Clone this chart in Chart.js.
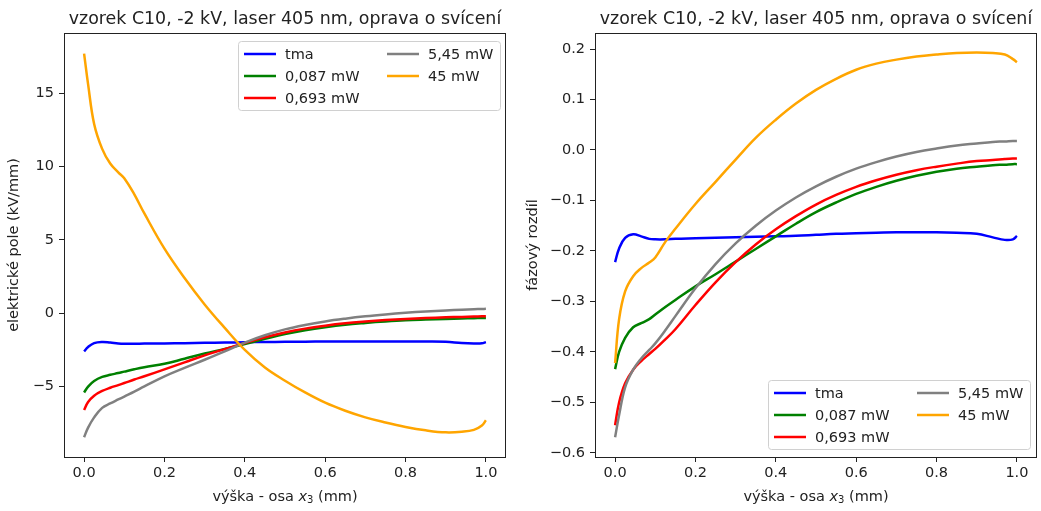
<!DOCTYPE html>
<html>
<head>
<meta charset="utf-8">
<script src="https://cdn.jsdelivr.net/npm/chart.js@4.4.1/dist/chart.umd.min.js"></script>
<style>
    html, body { margin: 0; padding: 0; background: #ffffff; }
    #left { position: absolute; left: 0; top: 0; }
    #right { position: absolute; left: 520px; top: 0; }
</style>
</head>
<body>
<canvas id="left" width="520" height="511"></canvas>
<canvas id="right" width="521" height="511"></canvas>
<script>
// x positions (mm) shared by all curves
const X_VALUES = [0, 0.01, 0.025, 0.045, 0.065, 0.085, 0.1, 0.125, 0.15, 0.2, 0.25, 0.3, 0.35, 0.4,
    0.45, 0.5, 0.55, 0.6, 0.65, 0.7, 0.75, 0.8, 0.85, 0.9, 0.94, 0.97, 0.99, 1.0];

const SERIES_LABELS = ['tma', '0,087 mW', '0,693 mW', '5,45 mW', '45 mW'];
const SERIES_COLORS = ['#0000ff', '#008000', '#ff0000', '#808080', '#ffa500'];

// left plot: electric field (kV/mm)
const FIELD_TMA = [-2.6, -2.3, -2.04, -1.96, -2.0, -2.06, -2.08, -2.08, -2.07, -2.06, -2.04, -2.02, -2.0, -1.98,
    -1.96, -1.95, -1.94, -1.93, -1.93, -1.92, -1.92, -1.92, -1.93, -1.95, -2.03, -2.06, -2.05, -1.97];
const FIELD_0087 = [-5.4, -5.0, -4.62, -4.34, -4.2, -4.08, -3.98, -3.82, -3.68, -3.45, -3.1, -2.75, -2.43, -2.1,
    -1.75, -1.42, -1.16, -0.95, -0.78, -0.66, -0.56, -0.48, -0.43, -0.39, -0.36, -0.34, -0.33, -0.33];
const FIELD_0693 = [-6.6, -6.05, -5.62, -5.3, -5.08, -4.9, -4.76, -4.52, -4.3, -3.83, -3.35, -2.87, -2.45, -2.03,
    -1.64, -1.31, -1.05, -0.85, -0.69, -0.57, -0.47, -0.39, -0.33, -0.28, -0.25, -0.23, -0.21, -0.2];
const FIELD_545 = [-8.45, -7.8, -7.1, -6.45, -6.15, -5.88, -5.68, -5.35, -4.99, -4.3, -3.72, -3.17, -2.6, -2.0,
    -1.5, -1.1, -0.8, -0.56, -0.37, -0.21, -0.08, 0.03, 0.12, 0.19, 0.24, 0.27, 0.29, 0.3];
const FIELD_45 = [17.7, 15.6, 12.9, 11.2, 10.2, 9.6, 9.2, 8.1, 6.8, 4.4, 2.4, 0.6, -1.0, -2.5,
    -3.7, -4.6, -5.4, -6.1, -6.65, -7.1, -7.45, -7.75, -7.98, -8.12, -8.08, -7.95, -7.65, -7.3];

// right plot: phase difference
const PHASE_TMA = [-0.222, -0.195, -0.174, -0.167, -0.171, -0.176, -0.177, -0.177, -0.176, -0.175, -0.174, -0.173, -0.172, -0.171,
    -0.17, -0.168, -0.166, -0.165, -0.164, -0.163, -0.163, -0.163, -0.164, -0.166, -0.173, -0.178, -0.177, -0.17];
const PHASE_0087 = [-0.434, -0.4, -0.372, -0.351, -0.343, -0.335, -0.326, -0.311, -0.297, -0.27, -0.246, -0.221, -0.196, -0.171,
    -0.146, -0.123, -0.104, -0.087, -0.073, -0.061, -0.051, -0.043, -0.037, -0.033, -0.03, -0.029, -0.028, -0.028];
const PHASE_0693 = [-0.545, -0.5, -0.462, -0.435, -0.418, -0.404, -0.394, -0.375, -0.355, -0.307, -0.262, -0.222, -0.187, -0.157,
    -0.131, -0.108, -0.089, -0.073, -0.06, -0.049, -0.04, -0.033, -0.027, -0.022, -0.02, -0.018, -0.017, -0.017];
const PHASE_545 = [-0.569, -0.525, -0.47, -0.435, -0.413, -0.396, -0.383, -0.357, -0.329, -0.274, -0.226, -0.185, -0.15, -0.12,
    -0.094, -0.072, -0.053, -0.037, -0.024, -0.013, -0.004, 0.003, 0.009, 0.013, 0.016, 0.017, 0.018, 0.018];
const PHASE_45 = [-0.422, -0.335, -0.28, -0.25, -0.234, -0.223, -0.213, -0.182, -0.156, -0.107, -0.063, -0.019, 0.024, 0.06,
    0.092, 0.119, 0.141, 0.159, 0.171, 0.179, 0.185, 0.189, 0.192, 0.193, 0.192, 0.189, 0.18, 0.174];

const X_TICKS = [0, 0.2, 0.4, 0.6, 0.8, 1.0];
const FIELD_TICKS = [-5, 0, 5, 10, 15];
const PHASE_TICKS = [-0.6, -0.5, -0.4, -0.3, -0.2, -0.1, 0.0, 0.1, 0.2];

const TITLE = 'vzorek C10, -2 kV, laser 405 nm, oprava o svícení';
const FONT = '"DejaVu Sans", sans-serif';
const TEXT = '#222222';
const SIZE = 14.5;

function minus(s) {
    return s.replace('-', '\u2212');
}

// frame, title, axis labels and a matplotlib-like two column legend
const decor = {
    id: 'decor',
    afterDraw(chart, args, opts) {
        const ctx = chart.ctx;
        const a = chart.chartArea;
        ctx.save();

        ctx.strokeStyle = TEXT;
        ctx.lineWidth = 1;
        ctx.strokeRect(Math.round(a.left) + 0.5, Math.round(a.top) + 0.5,
            Math.round(a.right - a.left) - 1, Math.round(a.bottom - a.top));

        const cx = (a.left + a.right) / 2;
        ctx.fillStyle = TEXT;
        ctx.textBaseline = 'middle';
        ctx.textAlign = 'center';
        ctx.font = '17.4px ' + FONT;
        ctx.fillText(TITLE, cx, 19);

        // x label: výška - osa x_3 (mm)
        const parts = [
            {t: 'výška - osa ', f: SIZE + 'px ' + FONT, dy: 0},
            {t: 'x', f: 'oblique ' + SIZE + 'px ' + FONT, dy: 0},
            {t: '3', f: '10px ' + FONT, dy: 3},
            {t: ' (mm)', f: SIZE + 'px ' + FONT, dy: 0}
        ];
        let w = 0;
        parts.forEach(p => { ctx.font = p.f; p.w = ctx.measureText(p.t).width; w += p.w; });
        let px = cx - w / 2;
        ctx.textAlign = 'left';
        parts.forEach(p => {
            ctx.font = p.f;
            ctx.fillText(p.t, px, 497 + p.dy);
            px += p.w;
        });

        // y label
        ctx.save();
        ctx.translate(opts.yLabelX, (a.top + a.bottom) / 2);
        ctx.rotate(-Math.PI / 2);
        ctx.textAlign = 'center';
        ctx.font = SIZE + 'px ' + FONT;
        ctx.fillText(opts.yLabel, 0, 0);
        ctx.restore();

        // legend
        const bw = 262, bh = 69;
        const bx = a.right - opts.legendRight - bw;
        const by = opts.legendTop ? a.top + 8 : a.bottom - 8 - bh;
        ctx.beginPath();
        ctx.roundRect(bx + 0.5, by + 0.5, bw, bh, 3);
        ctx.fillStyle = 'rgba(255,255,255,0.8)';
        ctx.fill();
        ctx.strokeStyle = '#d0d0d0';
        ctx.stroke();
        ctx.font = SIZE + 'px ' + FONT;
        ctx.lineWidth = 2.5;
        SERIES_LABELS.forEach((label, i) => {
            const col = i < 3 ? 0 : 1;
            const row = i < 3 ? i : i - 3;
            const lx = bx + (col === 0 ? 6 : 149);
            const ly = by + 13 + row * 22;
            ctx.strokeStyle = SERIES_COLORS[i];
            ctx.beginPath();
            ctx.moveTo(lx, ly);
            ctx.lineTo(lx + 32, ly);
            ctx.stroke();
            ctx.fillStyle = TEXT;
            ctx.fillText(label, lx + 41, ly + 1);
        });
        ctx.restore();
    }
};

function makeChart(id, values, yMin, yMax, yTicks, digits, yWidth, padRight, extra) {
    const ctx = document.getElementById(id).getContext('2d');
    return new Chart(ctx, {
        type: 'line',
        data: {
            datasets: values.map((ys, i) => ({
                label: SERIES_LABELS[i],
                data: X_VALUES.map((x, j) => ({x: x, y: ys[j]})),
                borderColor: SERIES_COLORS[i],
                borderWidth: 2.5,
                pointRadius: 0,
                fill: false,
                tension: 0.4,
                order: values.length - i
            }))
        },
        options: {
            responsive: false,
            animation: false,
            layout: {
                padding: {top: 33, right: padRight, left: 0, bottom: 0}
            },
            plugins: {
                legend: {display: false},
                title: {display: false},
                tooltip: {enabled: false},
                decor: extra
            },
            scales: {
                x: {
                    type: 'linear',
                    min: -0.05,
                    max: 1.05,
                    afterBuildTicks: s => { s.ticks = X_TICKS.map(v => ({value: v})); },
                    afterFit: s => { s.height = 54; },
                    border: {display: false},
                    grid: {drawOnChartArea: false, tickLength: 5, color: TEXT},
                    ticks: {
                        padding: 3,
                        color: TEXT,
                        font: {family: FONT, size: SIZE},
                        callback: v => v.toFixed(1)
                    }
                },
                y: {
                    type: 'linear',
                    min: yMin,
                    max: yMax,
                    afterBuildTicks: s => { s.ticks = yTicks.map(v => ({value: v})); },
                    afterFit: s => { s.width = yWidth; },
                    border: {display: false},
                    grid: {drawOnChartArea: false, tickLength: 5, color: TEXT},
                    ticks: {
                        padding: 5,
                        color: TEXT,
                        font: {family: FONT, size: SIZE},
                        callback: v => minus(v.toFixed(digits))
                    }
                }
            }
        },
        plugins: [decor]
    });
}

makeChart('left', [FIELD_TMA, FIELD_0087, FIELD_0693, FIELD_545, FIELD_45],
    -9.8, 19.1, FIELD_TICKS, 0, 64, 14,
    {yLabel: 'elektrické pole (kV/mm)', yLabelX: 14, legendRight: 6, legendTop: true});

makeChart('right', [PHASE_TMA, PHASE_0087, PHASE_0693, PHASE_545, PHASE_45],
    -0.608, 0.2317, PHASE_TICKS, 1, 75, 4,
    {yLabel: 'fázový rozdíl', yLabelX: 13, legendRight: 7, legendTop: false});
</script>
</body>
</html>
